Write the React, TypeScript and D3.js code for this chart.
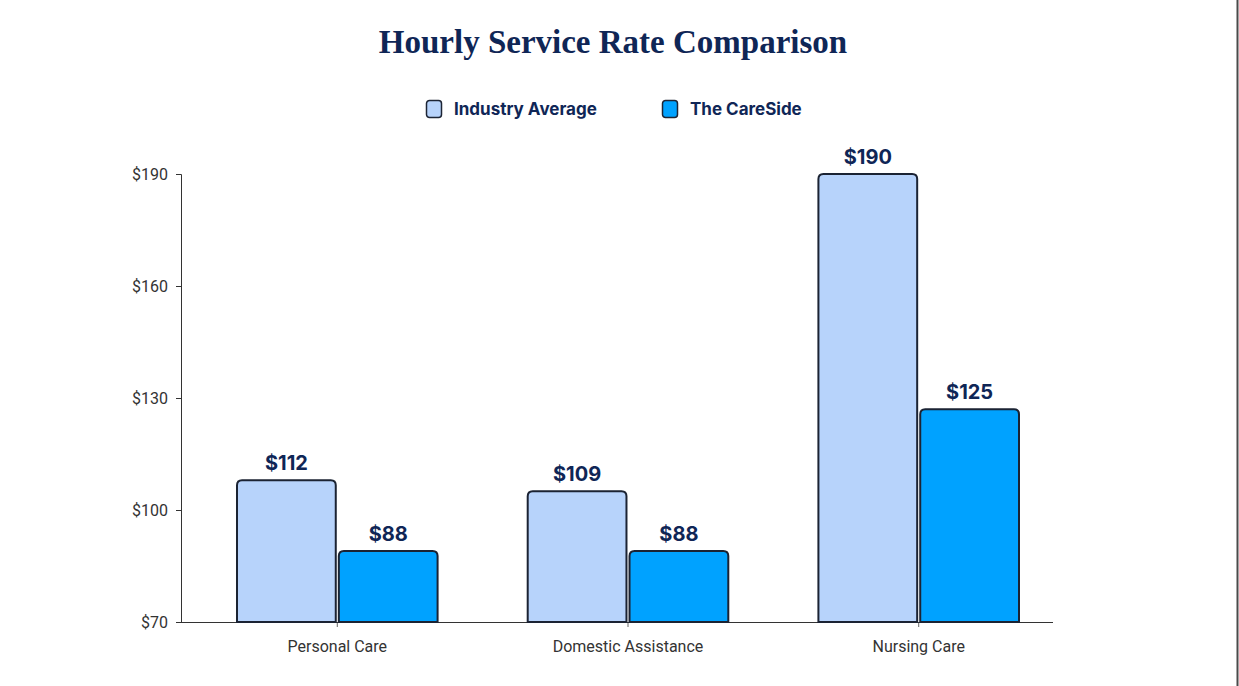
import * as d3 from "d3";
import { useEffect, useRef } from "react";

const categories = ["Personal Care", "Domestic Assistance", "Nursing Care"];
const seriesNames = ["Industry Average", "The CareSide"];
// bar heights as drawn in the picture
const industryValues = [108, 105, 190];
const caresideValues = [89, 89, 127];
// labels as printed above the bars
const industryLabels = [112, 109, 190];
const caresideLabels = [88, 88, 125];
const yTicks = [70, 100, 130, 160, 190];

const WIDTH = 1239;
const HEIGHT = 686;
const COLORS = ["#b7d3fb", "#00a2ff"];
const NAVY = "#0f2656";

function topRounded(x: number, y: number, w: number, h: number, r: number) {
  return `M${x},${y + h}V${y + r}Q${x},${y} ${x + r},${y}H${x + w - r}Q${x + w},${y} ${x + w},${y + r}V${y + h}Z`;
}

export default function App() {
  const svgRef = useRef<SVGSVGElement>(null);

  useEffect(() => {
    if (!svgRef.current) return;
    const svg = d3.select(svgRef.current);
    svg.selectAll("*").remove();

    svg.append("rect").attr("width", WIDTH).attr("height", HEIGHT).attr("fill", "#ffffff");
    svg.append("line")
      .attr("x1", WIDTH - 1.5).attr("x2", WIDTH - 1.5)
      .attr("y1", 0).attr("y2", HEIGHT)
      .attr("stroke", "#4a4a4a").attr("stroke-width", 2);

    const y = d3.scaleLinear().domain([70, 190]).range([622, 174]);
    const x = d3.scaleBand().domain(categories).range([237, 1019]).paddingInner(0.31).paddingOuter(0);
    const sub = d3.scaleBand().domain(seriesNames).range([0, x.bandwidth()]).paddingInner(0.03);

    // title
    svg.append("text")
      .attr("x", 613).attr("y", 53)
      .attr("text-anchor", "middle")
      .attr("font-family", "'Liberation Serif', serif")
      .attr("font-weight", 700)
      .attr("font-size", 33)
      .attr("fill", NAVY)
      .text("Hourly Service Rate Comparison");

    // legend
    const legendX = [426, 662];
    seriesNames.forEach((name, i) => {
      const g = svg.append("g").attr("transform", `translate(${legendX[i]},100)`);
      g.append("rect")
        .attr("x", 0.5).attr("y", 0.5).attr("width", 15).attr("height", 17).attr("rx", 3)
        .attr("fill", COLORS[i]).attr("stroke", "#1d2535").attr("stroke-width", 1.5);
      g.append("text")
        .attr("x", 28).attr("y", 15)
        .attr("font-family", "Inter, sans-serif")
        .attr("font-weight", 700)
        .attr("font-size", 17)
        .attr("fill", NAVY)
        .text(name);
    });

    // y axis
    const yAxis = svg.append("g")
      .attr("transform", "translate(181,0)")
      .call(d3.axisLeft(y).tickValues(yTicks).tickSize(5).tickPadding(8).tickFormat((d) => `$${d}`));
    yAxis.select(".domain").attr("stroke", "#333");
    yAxis.selectAll(".tick line").attr("stroke", "#333");
    yAxis.selectAll("text")
      .attr("font-family", "Roboto, sans-serif")
      .attr("font-size", 16)
      .attr("fill", "#333");

    // x axis
    const xAxis = svg.append("g")
      .attr("transform", "translate(0,622)")
      .call(d3.axisBottom(x).tickSize(5).tickPadding(14));
    xAxis.select(".domain").remove();
    xAxis.selectAll(".tick line").attr("stroke", "#666");
    xAxis.selectAll("text")
      .attr("font-family", "Roboto, sans-serif")
      .attr("font-size", 16)
      .attr("fill", "#333");
    svg.append("line")
      .attr("x1", 181).attr("x2", 1053)
      .attr("y1", 622.5).attr("y2", 622.5)
      .attr("stroke", "#333").attr("stroke-width", 1.2);

    // bars
    const series = [industryValues, caresideValues];
    const labels = [industryLabels, caresideLabels];
    series.forEach((vals, s) => {
      const g = svg.append("g");
      g.selectAll("path")
        .data(vals)
        .enter()
        .append("path")
        .attr("d", (d, i) => {
          const bx = (x(categories[i]) ?? 0) + (sub(seriesNames[s]) ?? 0);
          return topRounded(bx, y(d), sub.bandwidth(), y(70) - y(d), 5);
        })
        .attr("fill", COLORS[s])
        .attr("stroke", "#1b2333")
        .attr("stroke-width", 2);

      g.selectAll("text")
        .data(vals)
        .enter()
        .append("text")
        .attr("x", (_, i) => (x(categories[i]) ?? 0) + (sub(seriesNames[s]) ?? 0) + sub.bandwidth() / 2)
        .attr("y", (d) => y(d) - 10)
        .attr("text-anchor", "middle")
        .attr("font-family", "Inter, sans-serif")
        .attr("font-weight", 700)
        .attr("font-size", 20)
        .attr("fill", NAVY)
        .text((_, i) => `$${labels[s][i]}`);
    });
  }, []);

  return (
    <svg
      ref={svgRef}
      width={WIDTH}
      height={HEIGHT}
      style={{ position: "absolute", left: 0, top: 0, display: "block" }}
    />
  );
}
